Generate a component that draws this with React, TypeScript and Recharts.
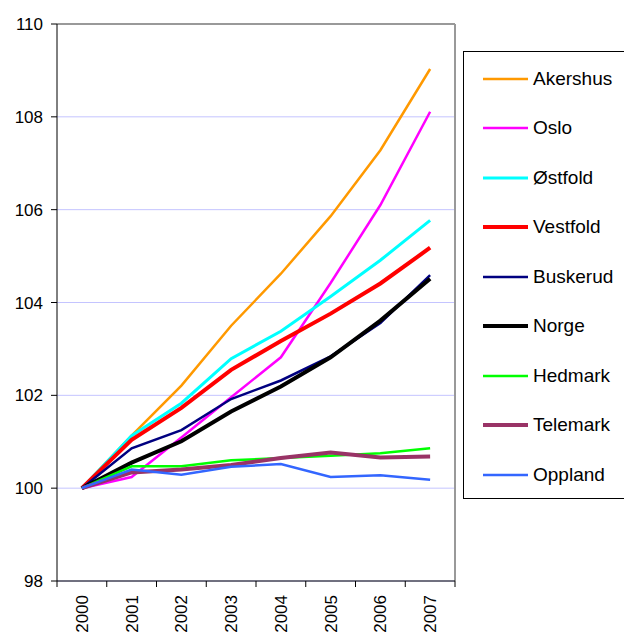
import React from 'react';
import { LineChart, Line, XAxis, YAxis, CartesianGrid, Legend, ReferenceLine } from 'recharts';

const years = ['2000', '2001', '2002', '2003', '2004', '2005', '2006', '2007'];

const akershus = [100, 101.13, 102.21, 103.5, 104.62, 105.86, 107.28, 109.03];
const oslo = [100, 100.24, 101.09, 101.96, 102.82, 104.42, 106.1, 108.11];
const ostfold = [100, 101.13, 101.83, 102.79, 103.38, 104.13, 104.91, 105.77];
const vestfold = [100, 101.04, 101.73, 102.55, 103.17, 103.76, 104.41, 105.18];
const buskerud = [100, 100.86, 101.25, 101.92, 102.32, 102.84, 103.56, 104.59];
const norge = [100, 100.55, 101.01, 101.65, 102.19, 102.82, 103.61, 104.51];
const hedmark = [100, 100.47, 100.47, 100.6, 100.65, 100.7, 100.75, 100.86];
const telemark = [100, 100.34, 100.4, 100.5, 100.65, 100.77, 100.66, 100.68];
const oppland = [100, 100.4, 100.29, 100.46, 100.52, 100.24, 100.28, 100.18];

const yTicks = [98, 100, 102, 104, 106, 108, 110];

const series = [
  { name: 'Akershus', values: akershus, color: '#FF9900', width: 2.5 },
  { name: 'Oslo', values: oslo, color: '#FF00FF', width: 2.5 },
  { name: 'Østfold', values: ostfold, color: '#00FFFF', width: 3 },
  { name: 'Vestfold', values: vestfold, color: '#FF0000', width: 4 },
  { name: 'Buskerud', values: buskerud, color: '#000080', width: 2.5 },
  { name: 'Norge', values: norge, color: '#000000', width: 4 },
  { name: 'Hedmark', values: hedmark, color: '#00FF00', width: 2.5 },
  { name: 'Telemark', values: telemark, color: '#993366', width: 4 },
  { name: 'Oppland', values: oppland, color: '#3366FF', width: 2.5 },
];

const data = years.map((year, i) => {
  const row: Record<string, number | string> = { idx: i, year };
  series.forEach((s) => {
    row[s.name] = s.values[i];
  });
  return row;
});

// ticks at category boundaries (half steps) + labels at centers
const xTicks: number[] = [];
for (let i = -0.5; i <= years.length - 0.5; i += 0.5) xTicks.push(i);

const font = 'Liberation Sans, Arial, sans-serif';

const XTick = (props: any) => {
  const { x, y, payload } = props;
  const v = payload.value;
  if (Number.isInteger(v)) {
    return (
      <text
        x={x}
        y={y + 14}
        transform={`rotate(-90 ${x} ${y + 14})`}
        textAnchor="end"
        dy="0.35em"
        fontSize={17}
        fontFamily={font}
        fill="#000"
      >
        {years[v]}
      </text>
    );
  }
  return <line x1={x} y1={y} x2={x} y2={y + 6} stroke="#000" />;
};

const renderLegend = () => (
  <div
    style={{
      border: '1px solid #000',
      width: 170,
      height: 448,
      boxSizing: 'border-box',
      paddingTop: 2,
      fontFamily: font,
    }}
  >
    {series.map((s) => (
      <div key={s.name} style={{ height: 49.5, display: 'flex', alignItems: 'center' }}>
        <svg width={45} height={10} style={{ marginLeft: 19 }}>
          <line x1={0} y1={5} x2={45} y2={5} stroke={s.color} strokeWidth={s.width} />
        </svg>
        <span style={{ fontSize: 19, color: '#000', marginLeft: 5, whiteSpace: 'nowrap' }}>{s.name}</span>
      </div>
    ))}
  </div>
);

export default function App() {
  return (
    <div style={{ position: 'absolute', left: 0, top: 0, background: '#fff' }}>
      <LineChart
        width={624}
        height={633}
        data={data}
        margin={{ top: 24, right: 169, bottom: 0, left: 0 }}
      >
        <CartesianGrid horizontal vertical={false} stroke="#C4C4FF" />
        <XAxis
          dataKey="idx"
          type="number"
          domain={[-0.5, years.length - 0.5]}
          ticks={xTicks}
          interval={0}
          tick={<XTick />}
          tickLine={false}
          tickSize={0}
          tickMargin={0}
          height={52}
          axisLine={{ stroke: '#000' }}
        />
        <YAxis
          type="number"
          domain={[98, 110]}
          ticks={yTicks}
          interval={0}
          width={57}
          tickSize={6}
          tickMargin={8}
          axisLine={{ stroke: '#000' }}
          tickLine={{ stroke: '#000' }}
          tick={{ fill: '#000', fontSize: 17, fontFamily: font }}
        />
        <ReferenceLine y={110} stroke="#999" strokeWidth={2} />
        <ReferenceLine x={years.length - 0.5} stroke="#999" strokeWidth={2} />
        {series.map((s) => (
          <Line
            key={s.name}
            type="linear"
            dataKey={s.name}
            stroke={s.color}
            strokeWidth={s.width}
            dot={false}
            activeDot={false}
            isAnimationActive={false}
          />
        ))}
        <Legend
          content={renderLegend}
          layout="vertical"
          verticalAlign="middle"
          align="center"
          wrapperStyle={{ left: 463, top: 51, width: 170 }}
        />
      </LineChart>
    </div>
  );
}
